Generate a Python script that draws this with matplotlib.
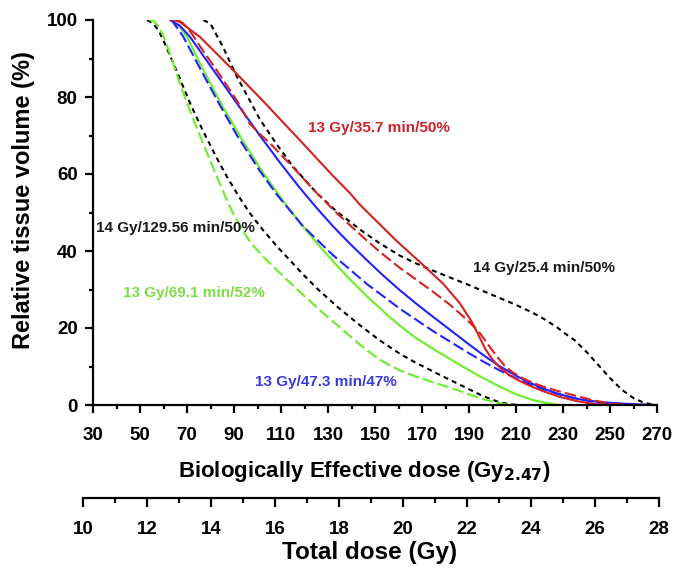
import numpy as np
import matplotlib
matplotlib.use('Agg')
import matplotlib.pyplot as plt
from matplotlib.ticker import MultipleLocator

# Biologically effective dose (Gy2.47) vs relative tissue volume (%)
red_solid_x = [64, 67, 75.5, 88.3, 102.3, 118, 125.3, 132, 139.4, 143.6, 159.4, 169, 179, 186,
               191, 194, 197, 200, 203, 207, 211.7, 217, 221.5, 228.7, 236, 243, 250]
red_solid_y = [100, 99.5, 95.6, 87.8, 79, 68.8, 64.0, 59.6, 55, 52, 42.5, 37.2, 31.5, 26.5,
               21.8, 18.2, 14.5, 11.8, 9.8, 7.8, 6.2, 4.7, 3.6, 2.1, 1.0, 0.3, 0]

red_dash_x = [66, 68.3, 72, 75.5, 82.8, 91.3, 96.8, 101, 105.3, 113.8, 125.3, 133.8, 144.9, 152,
              160.6, 167, 174.7, 182, 189, 194, 198, 201.9, 205, 208.7, 213, 217, 222, 227.4,
              236, 243, 250, 257]
red_dash_y = [100, 99.2, 96.5, 93.2, 86.8, 79, 73, 70.4, 68.0, 62.6, 55, 49.8, 43.6, 39.8,
              35.6, 32.8, 29.4, 26.0, 22.2, 19.2, 15.8, 12.6, 10.3, 8.4, 6.9, 5.8, 4.7, 3.7,
              2.3, 1.2, 0.4, 0]

blue_solid_x = [63, 64, 67, 71.3, 81, 91.3, 101, 110, 118, 125, 132, 139, 146.6, 153, 160.6, 167,
                174.7, 182, 189, 196, 203, 210, 217, 222, 227.4, 236, 245, 257, 270]
blue_solid_y = [100, 99.6, 98.5, 95.6, 87.2, 78.3, 70.0, 62.6, 56.4, 51.3, 46.5, 42.1, 37.6, 33.9,
                29.8, 26.6, 22.9, 19.5, 16.2, 13.0, 10.1, 7.6, 5.5, 4.2, 3.0, 1.6, 0.8, 0.3, 0]

blue_dash_x = [63, 64, 68.3, 75.5, 82.8, 91.3, 101, 108.3, 119.4, 132, 146.6, 160.6, 174.7, 189,
               196, 203, 210.4, 217, 224.5, 233, 242, 250, 262]
blue_dash_y = [100, 99.5, 95.8, 87.5, 79.2, 70.0, 60.8, 54.6, 46.4, 39.0, 31.4, 25.0, 19.2, 13.8,
               11.3, 9.0, 6.8, 5.1, 3.5, 2.0, 0.9, 0.35, 0]

green_solid_x = [63, 64, 67, 70, 76.8, 85.3, 93.8, 102.3, 110.9, 118, 125.3, 132, 139.4, 147, 155,
                 160.6, 167, 174.7, 182, 189, 196, 203, 210, 217, 224, 229]
green_solid_y = [100, 99.6, 98.2, 95.6, 87.2, 77.4, 68.6, 60.4, 53.0, 47.4, 42.0, 37.4, 32.6, 28.0,
                 23.5, 20.6, 17.6, 14.6, 11.9, 9.4, 7.0, 4.8, 2.8, 1.3, 0.4, 0]

green_dash_x = [54, 56, 58, 60, 62, 64, 66.3, 68.3, 72.5, 78.5, 82.8, 86, 89.6, 93, 96.8, 102,
                108.3, 118, 126.6, 135, 141, 146.6, 152, 156, 160.6, 167, 174.7, 182, 189, 196,
                203, 207]
green_dash_y = [100, 99.6, 98.2, 95.8, 92.5, 89, 84.8, 81.2, 74.5, 65.5, 59.2, 54.6, 49.8, 46.0,
                42.4, 38.8, 35.0, 29.4, 24.6, 20.2, 17.0, 14.2, 11.8, 10.4, 9.0, 7.5, 5.9, 4.5,
                3.0, 1.5, 0.5, 0]

black_129_x = [53, 55.5, 58, 61, 65.7, 71.3, 76.8, 82.8, 87, 92, 96.8, 102, 108.3, 119.4, 126,
               133.8, 143.6, 152, 160.6, 167, 174.7, 182, 189, 196, 203, 208, 211]
black_129_y = [100, 99.2, 97.2, 93.3, 86.6, 78.4, 71.2, 64.0, 59.3, 54.2, 49.8, 45.7, 41.2, 33.9,
               29.9, 25.6, 20.7, 16.8, 13.3, 11.1, 8.7, 6.5, 4.4, 2.3, 0.7, 0.15, 0]

black_25_x = [77, 80, 85.3, 91.3, 96.8, 101, 108.3, 115, 125.3, 133.8, 144.9, 152, 160.6, 167,
              174.7, 182, 189, 196, 203, 210, 217, 222, 227.4, 231, 235, 240, 245, 250, 255, 260,
              264, 268, 270]
black_25_y = [100, 99, 93, 85.2, 79, 74.2, 67.6, 62.0, 55.0, 50.2, 45.0, 42.0, 38.8, 36.9,
              34.9, 33.1, 31.4, 29.6, 27.8, 26.0, 24.0, 22.3, 20.2, 18.5, 16.8, 13.8, 10.4, 7.0,
              4.0, 1.8, 0.7, 0.1, 0]

# annotation text and where it sits (data coords)
labels = ['13 Gy/35.7 min/50%', '14 Gy/129.56 min/50%', '13 Gy/69.1 min/52%',
          '13 Gy/47.3 min/47%', '14 Gy/25.4 min/50%']
label_x = [151.7, 65.0, 73.0, 129.1, 221.9]
label_y = [72, 45.9, 29.0, 6.0, 35.5]
label_colors = ['#cc2229', '#1a1a1a', '#7ddc46', '#3a3adb', '#1a1a1a']

bed_ticks = np.arange(30, 271, 20)
total_ticks = np.arange(10, 29, 2)

RED = '#d42222'
BLUE = '#2222ff'
GREEN = '#6aee2a'
LONG = (0, (5.5, 2))
SHORT = (0, (2.4, 2))


def main():
    plt.rcParams['font.family'] = ['Liberation Sans', 'DejaVu Sans']
    plt.rcParams['font.weight'] = 'bold'

    W, H = 675, 570
    fig = plt.figure(figsize=(W / 100, H / 100), dpi=100)

    # main axes (pixel box 93..657 x 20..405)
    ax = fig.add_axes([93 / W, 1 - 405 / H, (657 - 93) / W, (405 - 20) / H])

    lw = 1.5
    ax.plot(black_129_x, black_129_y, color='black', lw=lw, ls=SHORT)
    ax.plot(green_dash_x, green_dash_y, color=GREEN, lw=lw, ls=LONG)
    ax.plot(green_solid_x, green_solid_y, color=GREEN, lw=lw)
    ax.plot(blue_dash_x, blue_dash_y, color=BLUE, lw=lw, ls=LONG)
    ax.plot(blue_solid_x, blue_solid_y, color=BLUE, lw=lw)
    ax.plot(black_25_x, black_25_y, color='black', lw=lw, ls=SHORT)
    ax.plot(red_dash_x, red_dash_y, color=RED, lw=lw, ls=LONG)
    ax.plot(red_solid_x, red_solid_y, color=RED, lw=lw)

    for t, x, y, c in zip(labels, label_x, label_y, label_colors):
        ax.text(x, y, t, color=c, fontsize=11, fontweight='bold', ha='center', va='center')

    ax.set_xlim(30, 270)
    ax.set_ylim(0, 100)
    ax.set_xticks(bed_ticks)
    ax.xaxis.set_minor_locator(MultipleLocator(10))
    ax.yaxis.set_major_locator(MultipleLocator(20))
    ax.yaxis.set_minor_locator(MultipleLocator(10))
    for s in ['top', 'right']:
        ax.spines[s].set_visible(False)
    for s in ['left', 'bottom']:
        ax.spines[s].set_linewidth(1.6)
    ax.tick_params(which='major', length=6, width=1.6, labelsize=13.5, pad=5)
    ax.tick_params(axis='x', which='major', pad=10)
    ax.tick_params(which='minor', length=3.2, width=1.6)
    ax.patch.set_visible(False)

    ax.set_xlabel('Biologically Effective dose (Gy$_{\\mathbf{2.47}}$)', fontsize=16, fontweight='bold')
    ax.xaxis.label.set_va('center')
    ax.xaxis.set_label_coords(364 / W, 1 - 472 / H, transform=fig.transFigure)

    ax.set_ylabel('Relative tissue volume (%)', fontsize=17, fontweight='bold')
    ax.yaxis.label.set_va('center')
    ax.yaxis.set_label_coords(24 / W, 1 - 200 / H, transform=fig.transFigure)

    # second x axis: total dose (pixel line at y=498, 83..659)
    ax2 = fig.add_axes([83 / W, 1 - 498 / H, (659 - 83) / W, 0.0001])
    ax2.patch.set_visible(False)
    for s in ['top', 'right', 'left']:
        ax2.spines[s].set_visible(False)
    ax2.spines['bottom'].set_linewidth(1.6)
    ax2.set_yticks([])
    ax2.set_xlim(10, 28)
    ax2.set_xticks(total_ticks)
    ax2.xaxis.set_minor_locator(MultipleLocator(1))
    ax2.tick_params(which='major', length=6.5, width=1.6, labelsize=13.5, pad=10)
    ax2.tick_params(which='minor', length=3.5, width=1.6)
    ax2.set_xlabel('Total dose (Gy)', fontsize=17.5, fontweight='bold')
    ax2.xaxis.label.set_va('center')
    ax2.xaxis.set_label_coords(370 / W, 1 - 553 / H, transform=fig.transFigure)

    fig.savefig('out.png', dpi=100)


if __name__ == '__main__':
    main()
